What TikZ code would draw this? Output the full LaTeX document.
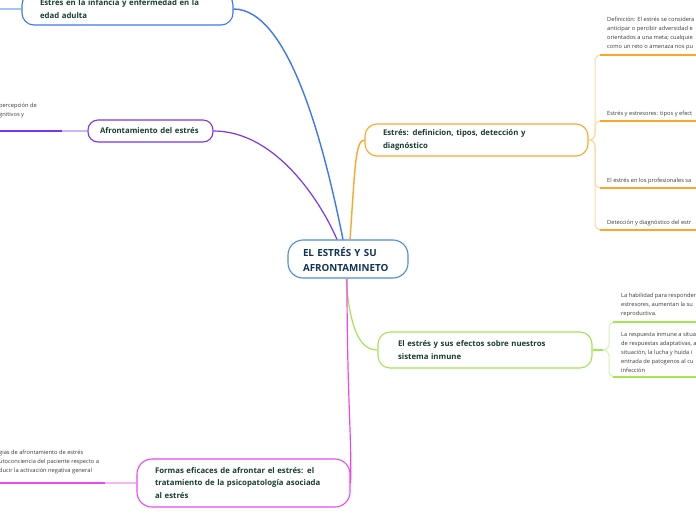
\documentclass[tikz,border=0pt]{standalone}
\usepackage{fontspec}
\setmainfont{Open Sans}
\definecolor{bluec}{HTML}{3B78F0}
\definecolor{bluel}{HTML}{A7C3F9}
\definecolor{purc}{HTML}{7B34F2}
\definecolor{purl}{HTML}{CDB6FA}
\definecolor{orc}{HTML}{FFA52A}
\definecolor{orl}{HTML}{FDD8A0}
\definecolor{grc}{HTML}{A3E651}
\definecolor{grl}{HTML}{D3F4AE}
\definecolor{pkc}{HTML}{EB48F0}
\definecolor{pkl}{HTML}{F6B6F8}
\definecolor{cenc}{HTML}{4A8ED6}
\definecolor{labelc}{HTML}{1A3D33}
\definecolor{centext}{HTML}{143457}
\definecolor{smallc}{HTML}{3A3A3A}
\begin{document}
\begin{tikzpicture}[x=1pt,y=-1pt,
  lbl/.style={rounded corners=12pt, line width=1.1pt, align=left,
    font=\bfseries\fontsize{7.8}{12.5}\selectfont, text=labelc, fill=white},
  small/.style={font=\fontsize{5.7}{9}\selectfont, text=smallc, inner sep=0pt, align=left},
  mainline/.style={line width=1.4pt},
  under/.style={line width=1.5pt},
  trunk/.style={line width=1pt, rounded corners=6pt}]
\useasboundingbox (0,0) rectangle (696,520);

% central node
\node[draw=cenc, line width=1.1pt, rounded corners=15pt, fill=white, align=left,
  font=\bfseries\fontsize{9.8}{15}\selectfont, text=centext,
  minimum width=120pt, minimum height=38pt, text width=90pt, inner xsep=15pt]
  (c) at (348,259) {EL ESTRÉS Y SU\\AFRONTAMINETO};

% main topic nodes
\node[lbl, draw=bluec, minimum width=211pt, minimum height=32pt, text width=175pt, inner xsep=18pt]
  (n1) at (127.5,9) {Estrés en la infancia y enfermedad en la\\edad adulta};
\node[lbl, draw=purc, rounded corners=10pt, minimum width=125pt, minimum height=22pt, text width=101pt, inner xsep=12pt]
  (n2) at (150.5,131) {Afrontamiento del estrés};
\node[lbl, draw=orc, minimum width=223pt, minimum height=32pt, text width=187pt, inner xsep=18pt]
  (n3) at (476.5,140) {Estrés: definicion, tipos, detección y\\diagnóstico};
\node[lbl, draw=grc, minimum width=214pt, minimum height=36pt, text width=174pt, inner xsep=20pt]
  (n4) at (485,350) {El estrés y sus efectos sobre nuestros\\sistema inmune};
\node[lbl, draw=pkc, rounded corners=15pt, minimum width=213pt, minimum height=48pt, text width=177pt, inner xsep=18pt]
  (n5) at (243.5,483) {Formas eficaces de afrontar el estrés: el\\tratamiento de la psicopatología asociada\\al estrés};

% main connectors
\draw[mainline, bluec] ([xshift=-5pt]c.north) .. controls (325,150) and (290,9) .. (n1.east);
\draw[mainline, purc, line width=1.2pt] ([xshift=-11pt]c.north) .. controls (320,200) and (275,131) .. (n2.east);
\draw[mainline, orc] ([xshift=2pt]c.north) .. controls (355,170) and (355,140) .. (n3.west);
\draw[mainline, grc, line width=1.2pt] ([xshift=-2pt]c.south) .. controls (350,330) and (360,350) .. (n4.west);
\draw[mainline, pkc, line width=1.2pt] ([xshift=-1pt]c.south) .. controls (347,400) and (352,440) .. (n5.east);

% left side continuations
\coordinate (l1) at (0,9);
\coordinate (l2) at (0,131);
\coordinate (l2m) at (62,131);
\coordinate (l5) at (0,483);
\coordinate (l5m) at (105,483);
\draw[bluel, line width=1.5pt] (l1) -- (n1.west);
\draw[purc, line width=2pt] (l2) -- (l2m);
\draw[purl, line width=1.5pt] (l2m) -- (n2.west);
\draw[pkc, line width=2pt] (l5) -- (l5m);
\draw[pkl, line width=1.5pt] (l5m) -- (n5.west);

\node[small, anchor=south west] (t21) at (-1,118.5) {percepción de\\gnitivos y};
\node[small, anchor=south west] (t51) at (-1,474.5) {gias de afrontamiento de estrés\\utoconciencia del paciente respecto a\\ducir la activación negativa general};

% orange branches
\coordinate (o1) at (696,55);
\coordinate (o2) at (696,121);
\coordinate (o3) at (696,188);
\coordinate (o4) at (696,230);
\foreach \yy/\nm in {55/o1,121/o2,188/o3,230/o4}{
  \draw[trunk, orl] (n3.east) -- (595,140) -- (595,\yy) -- (602,\yy);
  \draw[under, orc] (600,\yy) -- (\nm);
}
\node[small, anchor=south west] (s1) at (607,50.5) {Definición: El estrés se considera\\anticipar o percibir adversidad e\\orientados a una meta; cualquie\\como un reto o amenaza nos pu};
\node[small, anchor=base west] (s2) at (607,115) {Estrés y estresores: tipos y efect};
\node[small, anchor=base west] (s3) at (607,182) {El estrés en los profesionales sa};
\node[small, anchor=base west] (s4) at (607,224) {Detección y diagnóstico del estr};

% green branches
\coordinate (gm) at (603,350);
\coordinate (g1) at (696,322);
\coordinate (g2) at (696,377);
\draw[under, grc] (n4.east) -- (gm);
\foreach \yy/\nm in {322/g1,377/g2}{
  \draw[trunk, grl] (gm) -- (609,350) -- (609,\yy) -- (616,\yy);
  \draw[under, grc] (613,\yy) -- (\nm);
}
\node[small, anchor=south west] (s5) at (621,317.5) {La habilidad para responder\\estresores, aumentan la su\\reproductiva.};
\node[small, anchor=south west] (s6) at (621,372.5) {La respuesta inmune a situa\\de respuestas adaptativas, a\\situación, la lucha y huida i\\entrada de patogenos al cu\\infección};
\end{tikzpicture}
\end{document}
